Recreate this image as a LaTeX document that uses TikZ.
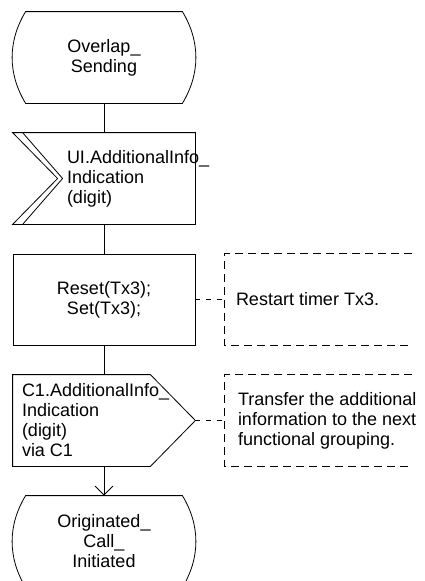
\documentclass[tikz,border=0pt]{standalone}
\usepackage{fontspec}
\setmainfont{Liberation Sans}
\usetikzlibrary{positioning,arrows.meta}

\begin{document}
\begin{tikzpicture}[x=1pt, y=-1pt, line width=0.8pt,
    font=\fontsize{18}{20}\selectfont,
    every node/.style={inner sep=0pt},
    statebody/.style={minimum width=156pt, minimum height=91pt, align=center},
    sigbody/.style={minimum width=182pt, minimum height=91pt},
    taskbox/.style={draw, minimum width=182pt, minimum height=91pt, align=center},
    notebody/.style={minimum width=187pt, minimum height=91pt},
    sigtext/.style={align=left},
    notelink/.style={dash pattern=on 8pt off 5pt},
    flowarrow/.style={-{Straight Barb[length=9pt,width=18pt]}}]
  \clip (0,0) rectangle (424,581);

  % start state
  \node[statebody] (overlap) at (104,57.5) {Overlap\_\\Sending};
  \draw (overlap.north west) -- (overlap.north east)
    .. controls +(18,30) and +(18,-30) .. (overlap.south east) -- (overlap.south west)
    .. controls +(-18,-30) and +(-18,30) .. cycle;

  % input signal
  \node[sigbody] (uiin) at (104,178.5) {};
  \draw (uiin.north west) -- (uiin.north east) -- (uiin.south east) -- (uiin.south west)
    -- ([xshift=45pt]uiin.west) -- cycle;
  \draw ([xshift=10pt]uiin.north west) -- ([xshift=50pt]uiin.west) -- ([xshift=10pt]uiin.south west);
  \node[sigtext, right=54pt of uiin.west] (uitext) {UI.AdditionalInfo\_\\Indication\\(digit)};

  % task
  \node[taskbox] (reset) at (104,299.5) {Reset(Tx3);\\Set(Tx3);};

  % output signal
  \node[sigbody] (c1out) at (104,420.5) {};
  \draw (c1out.north west) -- ([xshift=-45pt]c1out.north east) -- (c1out.east)
    -- ([xshift=-45pt]c1out.south east) -- (c1out.south west) -- cycle;
  \node[sigtext, right=9pt of c1out.west] (c1text) {C1.AdditionalInfo\_\\Indication\\(digit)\\via C1};

  % next state
  \node[statebody] (originated) at (104,541.5) {Originated\_\\Call\_\\Initiated};
  \draw (originated.north west) -- (originated.north east)
    .. controls +(18,30) and +(18,-30) .. (originated.south east) -- (originated.south west)
    .. controls +(-18,-30) and +(-18,30) .. cycle;

  % comments
  \node[notebody] (restartnote) at (318.5,299.5) {};
  \draw[notelink] (restartnote.north east) -- (restartnote.north west)
    -- (restartnote.south west) -- (restartnote.south east);
  \node[sigtext, right=11pt of restartnote.west] (restarttext) {Restart timer Tx3.};

  \node[notebody] (transfernote) at (318.5,420.5) {};
  \draw[notelink] (transfernote.north east) -- (transfernote.north west)
    -- (transfernote.south west) -- (transfernote.south east);
  \node[sigtext, right=13pt of transfernote.west] (transfertext)
    {Transfer the additional\\information to the next\\functional grouping.};

  % flow lines
  \draw (overlap.south) -- (uiin.north);
  \draw (uiin.south) -- (reset.north);
  \draw (reset.south) -- (c1out.north);
  \draw[flowarrow] (c1out.south) -- (originated.north);
  \draw[notelink, dash pattern=on 5pt off 6pt] (reset.east) -- (restartnote.west);
  \draw[notelink, dash pattern=on 5pt off 6pt] (c1out.east) -- (transfernote.west);
\end{tikzpicture}
\end{document}
